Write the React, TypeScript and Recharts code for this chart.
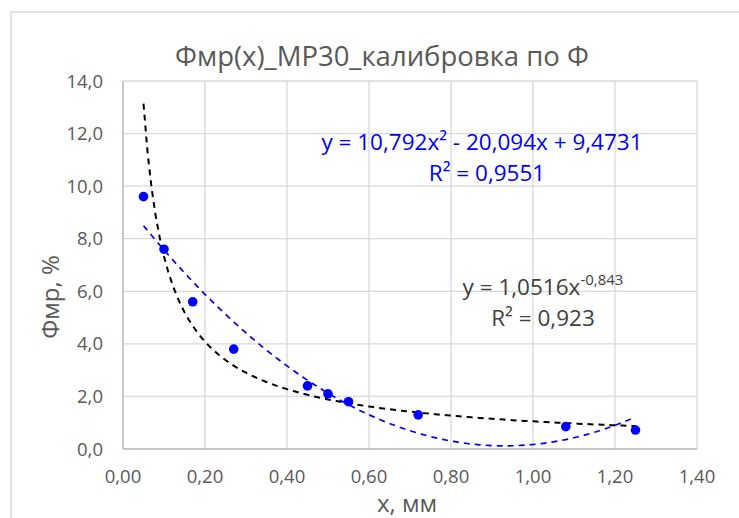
import React from 'react';
import {
  ComposedChart,
  Scatter,
  Line,
  XAxis,
  YAxis,
  CartesianGrid,
  Customized,
} from 'recharts';

// Measured points: x (mm) and Фмр (%)
const xValues = [0.05, 0.1, 0.17, 0.27, 0.45, 0.5, 0.55, 0.72, 1.08, 1.25];
const yValues = [9.6, 7.6, 5.6, 3.8, 2.4, 2.1, 1.8, 1.3, 0.85, 0.72];

// Trendline coefficients as shown in the equation labels
const polyCoeffs = [10.792, -20.094, 9.4731]; // a*x^2 + b*x + c
const powerCoeffs = [1.0516, -0.843]; // k * x^p

const xTicks = [0, 0.2, 0.4, 0.6, 0.8, 1.0, 1.2, 1.4];
const yTicks = [0, 2, 4, 6, 8, 10, 12, 14];

const titleText = 'Фмр(x)_MP30_калибровка по Ф';
const xLabel = 'x, мм';
const yLabel = 'Фмр, %';

const W = 739;
const H = 518;
const FONT = '"Open Sans", "Noto Sans", sans-serif';

const points = xValues.map((x, i) => ({ x, y: yValues[i] }));

const xMin = Math.min(...xValues);
const xMax = Math.max(...xValues);
const STEPS = 120;
const trendXs = Array.from({ length: STEPS + 1 }, (_, i) => xMin + ((xMax - xMin) * i) / STEPS);

const polyLine = trendXs.map((x) => ({
  x,
  y: polyCoeffs[0] * x * x + polyCoeffs[1] * x + polyCoeffs[2],
}));
const powerLine = trendXs.map((x) => ({
  x,
  y: powerCoeffs[0] * Math.pow(x, powerCoeffs[1]),
}));

const fmtX = (v: number) => v.toFixed(2).replace('.', ',');
const fmtY = (v: number) => v.toFixed(1).replace('.', ',');

const tickStyle = { fill: '#595959', fontSize: 18.5, fontFamily: FONT };

const Dot = (props: any) => {
  const { cx, cy } = props;
  if (cx == null || cy == null) return null;
  return <circle cx={cx} cy={cy} r={4.8} fill="#0000ff" />;
};

const Annotations = () => (
  <g fontFamily={FONT}>
    <rect x={11} y={12} width={760} height={540} fill="none" stroke="#d9d9d9" strokeWidth={1.5} />
    <text x={382} y={55} textAnchor="middle" dominantBaseline="central" fontSize={27.5} fill="#595959">
      {titleText}
    </text>
    <text
      x={49}
      y={297}
      textAnchor="middle"
      dominantBaseline="central"
      fontSize={24}
      fill="#595959"
      transform="rotate(-90 49 297)"
    >
      {yLabel}
    </text>
    <text x={407} y={502} textAnchor="middle" dominantBaseline="central" fontSize={24} fill="#595959">
      {xLabel}
    </text>
    <g fill="#0000ff" fontSize={22.5} textAnchor="middle">
      <text x={482} y={150}>
        y = 10,792x² - 20,094x + 9,4731
      </text>
      <text x={487} y={181}>R² = 0,9551</text>
    </g>
    <g fill="#404040" fontSize={22.5} textAnchor="middle">
      <text x={543} y={295}>
        y = 1,0516x
        <tspan fontSize={15} dy={-10}>
          -0,843
        </tspan>
      </text>
      <text x={543} y={326}>R² = 0,923</text>
    </g>
  </g>
);

export default function App() {
  return (
    <div style={{ position: 'fixed', left: 0, top: 0, width: W, height: H, background: '#ffffff' }}>
      <ComposedChart width={W} height={H} margin={{ top: 81, right: 42, bottom: 0, left: 0 }}>
        <CartesianGrid stroke="#d9d9d9" strokeWidth={1.3} />
        <XAxis
          type="number"
          dataKey="x"
          domain={[0, 1.4]}
          ticks={xTicks}
          tickFormatter={fmtX}
          height={69}
          allowDataOverflow
          axisLine={{ stroke: '#bfbfbf', strokeWidth: 1.5 }}
          tickLine={false}
          tickMargin={15}
          tick={tickStyle}
        />
        <YAxis
          type="number"
          dataKey="y"
          domain={[0, 14]}
          ticks={yTicks}
          tickFormatter={fmtY}
          width={123}
          allowDataOverflow
          axisLine={{ stroke: '#bfbfbf', strokeWidth: 1.5 }}
          tickLine={false}
          tickMargin={14}
          tick={tickStyle}
        />
        <Line
          data={powerLine}
          dataKey="y"
          type="linear"
          stroke="#000000"
          strokeWidth={2}
          strokeDasharray="6 5"
          dot={false}
          activeDot={false}
          isAnimationActive={false}
        />
        <Line
          data={polyLine}
          dataKey="y"
          type="linear"
          stroke="#0000ff"
          strokeWidth={1.7}
          strokeDasharray="6 5"
          dot={false}
          activeDot={false}
          isAnimationActive={false}
        />
        <Scatter data={points} dataKey="y" shape={Dot} isAnimationActive={false} />
        <Customized component={Annotations} />
      </ComposedChart>
    </div>
  );
}
